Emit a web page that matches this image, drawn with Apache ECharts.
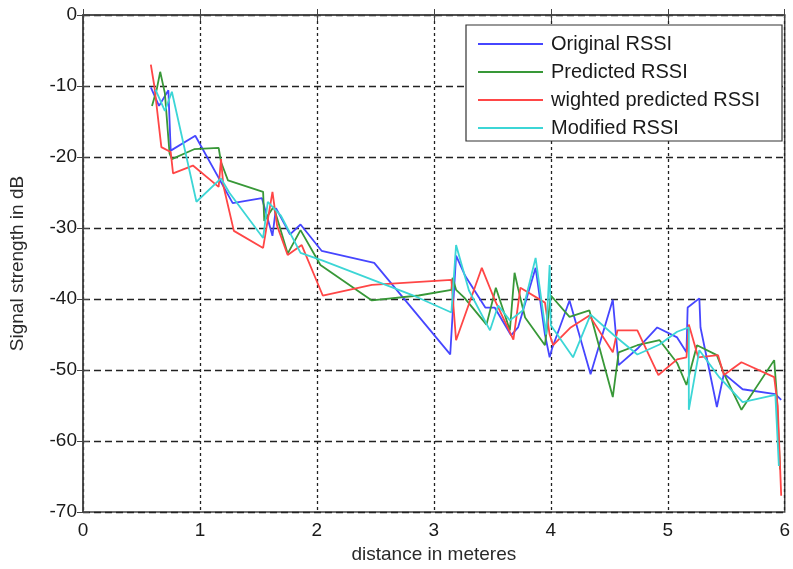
<!DOCTYPE html>
<html>
<head>
<meta charset="utf-8">
<script src="https://cdn.jsdelivr.net/npm/echarts@6/dist/echarts.min.js"></script>
<style>html,body{margin:0;padding:0;background:#fff}#c{width:793px;height:569px}</style>
</head>
<body>
<div id="c"></div>
<script>
const seriesNames = ['Original RSSI', 'Predicted RSSI', 'wighted predicted RSSI', 'Modified RSSI'];
const xTicks = [0, 1, 2, 3, 4, 5, 6];
const yTicks = [0, -10, -20, -30, -40, -50, -60, -70];

const origX = [0.58,0.65,0.73,0.75,0.96,1.28,1.53,1.62,1.65,1.77,1.86,2.04,2.49,3.14,3.19,3.27,3.44,3.52,3.66,3.72,3.87,3.95,3.99,4.01,4.16,4.34,4.53,4.58,4.74,4.91,5.08,5.16,5.17,5.27,5.28,5.42,5.48,5.64,5.92,5.97];
const origY = [-10.2,-12.8,-10.6,-19.1,-17.0,-26.5,-25.8,-31.1,-27.2,-30.9,-29.5,-33.2,-34.9,-47.8,-33.9,-36.8,-41.2,-41.2,-45.1,-44.0,-35.6,-45.0,-48.2,-47.0,-40.2,-50.6,-40.1,-49.3,-47.0,-44.0,-45.4,-47.5,-41.2,-39.9,-44.0,-55.2,-50.5,-52.7,-53.4,-54.2];

const predX = [0.59,0.63,0.66,0.70,0.74,0.76,0.95,1.16,1.18,1.24,1.54,1.55,1.63,1.75,1.86,2.03,2.47,2.87,3.15,3.16,3.19,3.26,3.45,3.53,3.65,3.69,3.72,3.78,3.95,4.00,4.16,4.33,4.53,4.58,4.74,4.93,5.08,5.16,5.25,5.42,5.48,5.63,5.91,5.93,5.96];
const predY = [-12.8,-10.5,-8.0,-11.0,-19.5,-20.3,-18.9,-18.7,-20.7,-23.3,-24.9,-29.0,-27.0,-33.6,-30.3,-35.2,-40.2,-39.5,-38.7,-37.0,-38.7,-39.8,-43.6,-38.4,-44.4,-36.3,-38.5,-42.6,-46.5,-39.5,-42.5,-41.6,-53.8,-47.5,-46.5,-45.8,-49.0,-52.1,-46.5,-47.9,-50.5,-55.6,-48.6,-53.0,-64.0];

const wpredX = [0.58,0.61,0.67,0.75,0.77,0.94,1.16,1.18,1.20,1.29,1.54,1.62,1.66,1.75,1.87,2.05,2.47,3.15,3.19,3.41,3.52,3.68,3.74,3.95,3.99,4.02,4.17,4.33,4.53,4.57,4.74,4.92,5.08,5.16,5.18,5.26,5.43,5.48,5.63,5.91,5.94,5.97];
const wpredY = [-7.0,-10.0,-18.6,-19.3,-22.3,-21.2,-24.2,-20.3,-24.0,-30.4,-32.8,-24.9,-29.7,-33.8,-32.4,-39.5,-38.0,-37.3,-45.8,-35.6,-40.1,-45.7,-38.4,-40.5,-45.0,-46.5,-44.0,-42.3,-47.5,-44.4,-44.4,-50.7,-48.5,-48.2,-43.6,-48.2,-47.9,-50.7,-48.9,-51.0,-55.0,-67.7];

const modX = [0.62,0.70,0.76,0.97,1.18,1.25,1.54,1.58,1.69,1.86,2.05,2.81,3.15,3.19,3.30,3.48,3.55,3.65,3.76,3.87,3.96,3.99,4.00,4.19,4.34,4.54,4.74,4.93,5.08,5.18,5.18,5.27,5.44,5.64,5.92,5.95];
const modY = [-10.5,-13.5,-10.8,-26.3,-23.0,-25.0,-31.4,-26.3,-28.2,-33.5,-34.6,-39.4,-41.9,-32.4,-38.8,-44.4,-40.9,-43.0,-41.6,-34.2,-45.0,-35.2,-43.7,-48.2,-42.2,-45.1,-47.8,-46.4,-44.6,-44.0,-55.6,-47.2,-51.0,-54.5,-53.5,-63.5];

const colors = ['#4646ff', '#389838', '#ff4646', '#3cd6d6'];
const xsList = [origX, predX, wpredX, modX];
const ysList = [origY, predY, wpredY, modY];

const FONT = 'Liberation Sans, Arial, sans-serif';
const chart = echarts.init(document.getElementById('c'));
const series = seriesNames.map((name, i) => ({
  name: name,
  type: 'line',
  symbol: 'none',
  animation: false,
  data: xsList[i].map((x, k) => [x, ysList[i][k]]),
  lineStyle: { color: colors[i], width: 1.8 },
  itemStyle: { color: colors[i] }
}));

chart.setOption({
  backgroundColor: '#fff',
  animation: false,
  grid: { left: 81, right: 3, top: 15, bottom: 53, show: true, borderColor: '#444', borderWidth: 1.5, backgroundColor: '#fff' },
  legend: {
    left: 466, top: 25, orient: 'vertical',
    data: seriesNames,
    icon: 'rect', itemWidth: 65, itemHeight: 2, itemGap: 6,
    padding: [8, 22, 2, 12],
    backgroundColor: '#fff', borderColor: '#333', borderWidth: 1.2,
    textStyle: { fontFamily: FONT, fontSize: 20, color: '#1a1a1a', lineHeight: 22, padding: [0, 0, 0, 3] }
  },
  xAxis: [{
    type: 'value', min: xTicks[0], max: xTicks[xTicks.length - 1], interval: 1,
    name: 'distance in meteres', nameLocation: 'middle', nameGap: 29,
    nameTextStyle: { fontFamily: FONT, fontSize: 19, color: '#2a2a2a' },
    axisLine: { show: true, lineStyle: { color: '#444', width: 1.5 } },
    axisTick: { show: true, inside: true, length: 6, lineStyle: { color: '#444' } },
    axisLabel: { fontFamily: FONT, fontSize: 19, color: '#1a1a1a', margin: 9 },
    splitLine: { show: true, lineStyle: { color: '#222', type: [3, 3], width: 1.3 } }
  }, {
    type: 'value', position: 'top', min: 0, max: 6, interval: 1,
    axisLine: { show: false }, axisLabel: { show: false },
    axisTick: { show: true, inside: true, length: 6, lineStyle: { color: '#444' } },
    splitLine: { show: false }
  }],
  yAxis: [{
    type: 'value', min: yTicks[yTicks.length - 1], max: yTicks[0], interval: 10,
    name: 'Signal strength in dB', nameLocation: 'middle', nameGap: 56,
    nameTextStyle: { fontFamily: FONT, fontSize: 19, color: '#2a2a2a' },
    axisLine: { show: true, lineStyle: { color: '#444', width: 1.5 } },
    axisTick: { show: true, inside: true, length: 6, lineStyle: { color: '#444' } },
    axisLabel: { fontFamily: FONT, fontSize: 19, color: '#1a1a1a', margin: 6 },
    splitLine: { show: true, lineStyle: { color: '#222', type: [7, 4], width: 1.3 } }
  }, {
    type: 'value', position: 'right', min: -70, max: 0, interval: 10,
    axisLine: { show: false }, axisLabel: { show: false },
    axisTick: { show: true, inside: true, length: 6, lineStyle: { color: '#444' } },
    splitLine: { show: false }
  }],
  series: series
});
</script>
</body>
</html>
